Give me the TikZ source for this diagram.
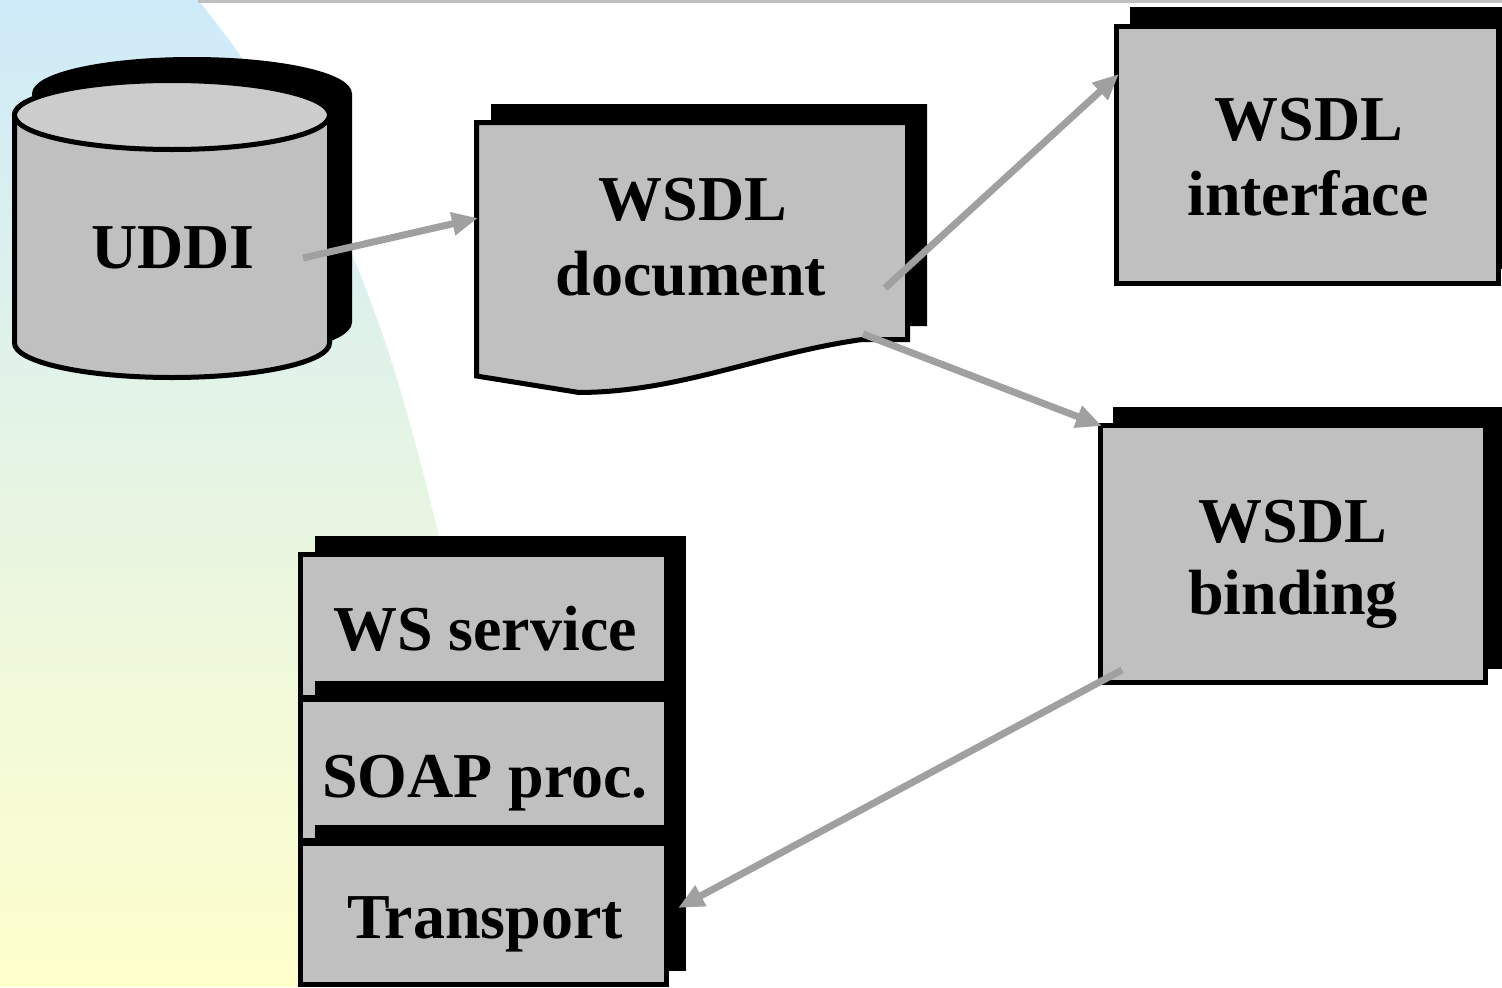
\documentclass[tikz,border=0pt]{standalone}
\usepackage{fontspec}
\setmainfont{Liberation Serif}
\usetikzlibrary{arrows.meta}
\definecolor{boxgray}{HTML}{C0C0C0}
\definecolor{topgray}{HTML}{CCCCCC}
\definecolor{arrowgray}{HTML}{A0A0A0}
\definecolor{bgblue}{HTML}{CFEBF9}
\definecolor{bgmid}{HTML}{E4F4E6}
\definecolor{bgyellow}{HTML}{FFFFCC}
\definecolor{rulegray}{HTML}{C0C0C0}
\begin{document}
\begin{tikzpicture}[x=1bp,y=-1bp,
  outline/.style={draw=black,line width=5bp,line join=miter},
  frontbox/.style={outline,fill=boxgray},
  shadowbox/.style={fill=black},
  lbl/.style={font=\fontsize{64.2}{75}\selectfont\bfseries,inner sep=0pt,anchor=base},
  conn/.style={draw=arrowgray,line width=7bp,-{Triangle[length=26bp,width=22bp]}},
  cylbody/.style={insert path={(14.5,115) -- (14.5,343)
      .. controls (14.5,362) and (85,377.5) .. (172,377.5)
      .. controls (259,377.5) and (329.5,362) .. (329.5,343)
      -- (329.5,115)
      .. controls (329.5,96) and (259,80.5) .. (172,80.5)
      .. controls (85,80.5) and (14.5,96) .. (14.5,115) -- cycle}},
  docpath/.style={insert path={(476.5,122.5) -- (907.5,122.5) -- (907.5,339.5) -- (862,339.5)
      .. controls (760,354) and (680,392) .. (579,392.5) -- (476.5,376) -- cycle}}]

\clip (0,0) rectangle (1502,987);
\useasboundingbox (0,0) rectangle (1502,987);
\fill[white] (0,0) rectangle (1502,987);

% background band
\shade[top color=bgblue,middle color=bgmid,bottom color=bgyellow]
  (0,0) -- (198,0) .. controls (360,200) and (400,380) .. (445,560) -- (475,987) -- (0,987) -- cycle;
\draw[rulegray,line width=3bp] (198,1.5) -- (1502,1.5);

% UDDI cylinder
\begin{scope}[shift={(20,-21)}]
  \path[outline,fill=black][cylbody];
\end{scope}
\path[outline,fill=boxgray][cylbody];
\draw[outline,fill=topgray] (172,115) ellipse [x radius=157.5, y radius=34.5];
\node[lbl] (uddi) at (173,268) {UDDI};

% WSDL document
\begin{scope}[shift={(17,-16)}]
  \path[outline,fill=black][docpath];
\end{scope}
\path[frontbox][docpath];
\node[lbl] (doc1) at (693,220) {WSDL};
\node[lbl] (doc2) at (691,295) {document};

% WSDL interface
\fill[shadowbox] (1130,7) rectangle (1517,269);
\draw[frontbox] (1116.5,26.5) rectangle (1498.5,283.5);
\node[lbl] (ifc1) at (1309,140) {WSDL};
\node[lbl] (ifc2) at (1308,215) {interface};

% WSDL binding
\fill[shadowbox] (1113,407) rectangle (1503,669);
\draw[frontbox] (1100.5,425.5) rectangle (1485.5,682.5);
\node[lbl] (bnd1) at (1293,542) {WSDL};
\node[lbl] (bnd2) at (1293,614) {binding};

% protocol stack
\fill[shadowbox] (315,536) rectangle (686,684);
\draw[frontbox] (300.5,554.5) rectangle (666.5,697.5);
\node[lbl] (ws) at (485,650) {WS service};
\fill[shadowbox] (315,681) rectangle (686,827);
\draw[frontbox] (300.5,699.5) rectangle (666.5,840.5);
\node[lbl] (soap) at (485,797) {SOAP proc.};
\fill[shadowbox] (315,825) rectangle (686,971);
\draw[frontbox] (300.5,843.5) rectangle (666.5,984.5);
\node[lbl] (trans) at (485,938) {Transport};

% connectors
\coordinate (a1s) at (303,258);  \coordinate (a1e) at (478,218);
\coordinate (a2s) at (885,288);  \coordinate (a2e) at (1119,74);
\coordinate (a3s) at (863,334);  \coordinate (a3e) at (1102,426);
\coordinate (a4s) at (1122,670); \coordinate (a4e) at (678,908);
\draw[conn] (a1s) -- (a1e);
\draw[conn] (a2s) -- (a2e);
\draw[conn] (a3s) -- (a3e);
\draw[conn] (a4s) -- (a4e);
\end{tikzpicture}
\end{document}
